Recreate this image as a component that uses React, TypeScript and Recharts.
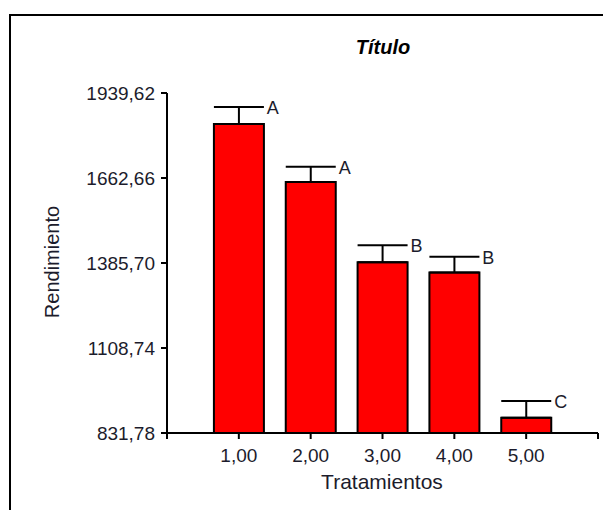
import {
  ComposedChart,
  Bar,
  Line,
  XAxis,
  YAxis,
  ErrorBar,
  LabelList,
} from "recharts";

// medias por tratamiento, error estándar y letras de la prueba de comparación
const tratamientos = [1, 2, 3, 4, 5];
const rendimiento = [1838.5, 1649.3, 1388.5, 1354.6, 881.7];
const errorEstandar = [55.4, 49.9, 55.3, 51.1, 54.4];
const letras = ["A", "A", "B", "B", "C"];

const ticksY = [831.78, 1108.74, 1385.7, 1662.66, 1939.62];
const ticksX = [0, 1, 2, 3, 4, 5, 6];

const data = tratamientos.map((t, i) => ({
  trat: t,
  media: rendimiento[i],
  // solo la barra superior del error
  error: [0, errorEstandar[i]],
  tope: rendimiento[i] + errorEstandar[i],
  letra: letras[i],
}));

const FONT = '"Liberation Sans", Arial, sans-serif';
const TEXTO = "#1c1c2c";

function coma(v: number) {
  return v.toFixed(2).replace(".", ",");
}

function Letra(props: any) {
  const { x, y, value } = props;
  return (
    <text
      x={x + 28}
      y={y + 1}
      fontSize={18}
      fontFamily={FONT}
      fill={TEXTO}
      dominantBaseline="central"
    >
      {value}
    </text>
  );
}

export default function App() {
  return (
    <div style={{ position: "relative", width: 603, height: 502, fontFamily: FONT }}>
      <div
        style={{
          position: "absolute",
          left: 1,
          top: 6,
          width: 600,
          height: 520,
          borderLeft: "2px solid #000",
          borderTop: "2px solid #000",
        }}
      />
      <div
        style={{
          position: "absolute",
          left: 0,
          width: 750,
          top: 28,
          textAlign: "center",
          fontSize: 20,
          fontWeight: "bold",
          fontStyle: "italic",
          color: "#000",
        }}
      >
        Título
      </div>
      <div
        style={{
          position: "absolute",
          left: 44,
          top: 254,
          transform: "translate(-50%, -50%) rotate(-90deg)",
          fontSize: 20,
          color: TEXTO,
          whiteSpace: "nowrap",
        }}
      >
        Rendimiento
      </div>
      <div
        style={{
          position: "absolute",
          left: 0,
          width: 748,
          top: 462,
          textAlign: "center",
          fontSize: 21,
          color: TEXTO,
        }}
      >
        Tratamientos
      </div>
      <ComposedChart
        width={603}
        height={502}
        data={data}
        margin={{ top: 85, right: 13, left: 79, bottom: 37 }}
        style={{ position: "absolute", left: 0, top: 0 }}
      >
        <XAxis
          dataKey="trat"
          type="number"
          domain={[0, 6]}
          ticks={ticksX}
          tickFormatter={(v: number) => (v === 0 || v === 6 ? "" : coma(v))}
          height={40}
          tickSize={6}
          tickMargin={10}
          axisLine={{ stroke: "#000", strokeWidth: 2 }}
          tickLine={{ stroke: "#000", strokeWidth: 2 }}
          tick={{ fontSize: 19, fill: TEXTO, fontFamily: FONT }}
        />
        <YAxis
          type="number"
          domain={[831.78, 1939.62]}
          ticks={ticksY}
          tickFormatter={coma}
          width={80}
          tickSize={6}
          tickMargin={6}
          axisLine={{ stroke: "#000", strokeWidth: 2 }}
          tickLine={{ stroke: "#000", strokeWidth: 2 }}
          tick={{ fontSize: 19, fill: TEXTO, fontFamily: FONT }}
        />
        <Bar
          dataKey="media"
          fill="#ff0000"
          stroke="#000"
          strokeWidth={2}
          barSize={50}
          isAnimationActive={false}
        >
          <ErrorBar
            dataKey="error"
            direction="y"
            width={25}
            stroke="#000"
            strokeWidth={2}
            isAnimationActive={false}
          />
        </Bar>
        <Line
          dataKey="tope"
          stroke="none"
          dot={false}
          activeDot={false}
          legendType="none"
          isAnimationActive={false}
        >
          <LabelList dataKey="letra" content={Letra} />
        </Line>
      </ComposedChart>
    </div>
  );
}
